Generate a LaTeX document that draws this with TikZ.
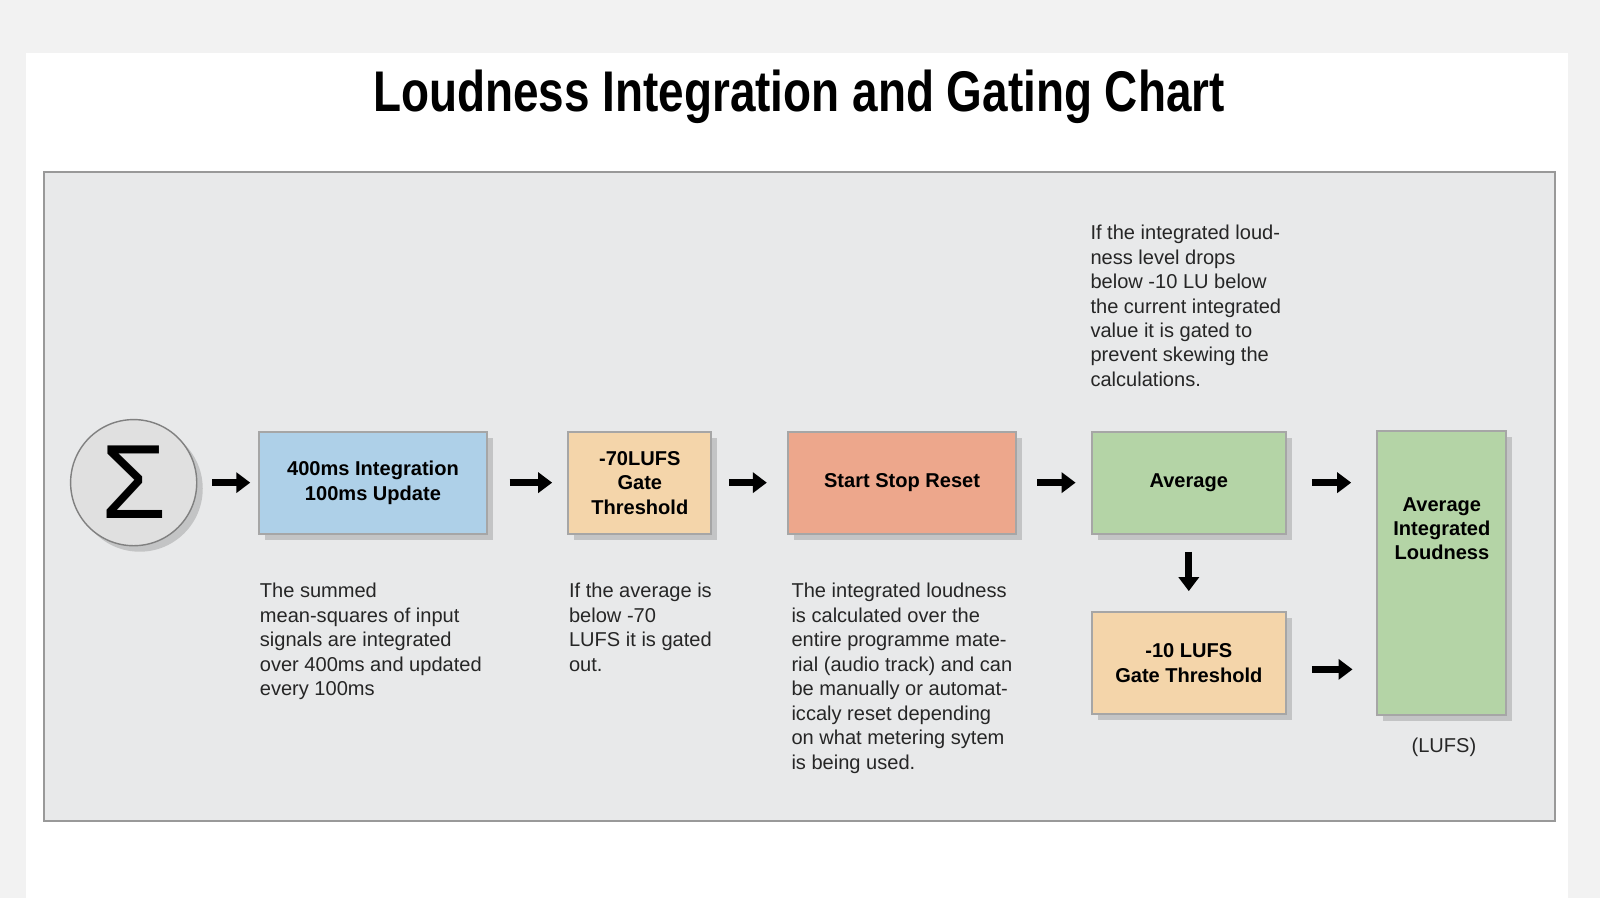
\documentclass[tikz,border=0pt]{standalone}
\usepackage{fontspec}
\setmainfont{Liberation Sans}
\usetikzlibrary{arrows.meta, shadows}
\definecolor{pagegray}{HTML}{F2F2F2}
\definecolor{panelgray}{HTML}{E8E9EA}
\definecolor{boxblue}{HTML}{AED0E8}
\definecolor{boxorange}{HTML}{F4D5AA}
\definecolor{boxsalmon}{HTML}{EDA78C}
\definecolor{boxgreen}{HTML}{B4D4A6}
\begin{document}
\begin{tikzpicture}
      [
        x=0.0102cm, y=-0.0102cm,
        box/.style={draw=black!35, line width=0.6pt, align=center, inner sep=0pt,
          font=\bfseries\fontsize{5.7pt}{6.95pt}\selectfont,
          drop shadow={shadow xshift=0.06cm, shadow yshift=-0.06cm, opacity=0.35}},
        note/.style={anchor=north west, align=left, inner sep=0pt,
          font=\fontsize{5.7pt}{6.95pt}\selectfont, text=black!85},
        flow/.style={line width=0.07cm, -{Triangle[length=0.14cm, width=0.2cm]},
          shorten <=0.15cm, shorten >=0.08cm}
      ]
      % background
      \fill[pagegray] (0,0) rectangle (1568,880);
      \fill[white] (25,52) rectangle (1537,880);
      \draw[black!40, fill=panelgray, line width=0.6pt] (43,169) rectangle (1524,805);
      % title
      \node (title) at (783,95)
        {\scalebox{0.8}[1]{\bfseries\fontsize{16.3pt}{18pt}\selectfont Loudness Integration and Gating Chart}};
      % blocks
      \node [circle, draw=black!50, fill=black!12, minimum size=1.26cm, inner sep=0pt,
        drop shadow={shadow xshift=0.06cm, shadow yshift=-0.06cm, opacity=0.35}]
        (sum) at (131,473) {\fontsize{30pt}{30pt}\selectfont\raisebox{-0.05cm}{Σ}};
      \node [box, fill=boxblue, minimum width=2.27cm, minimum height=1.02cm] (integ) at (365.5,473)
        {400ms Integration\\100ms Update};
      \node [box, fill=boxorange, minimum width=1.43cm, minimum height=1.02cm] (gate70) at (627,473)
        {-70LUFS\\Gate\\Threshold};
      \node [box, fill=boxsalmon, minimum width=2.28cm, minimum height=1.02cm] (reset) at (884,473)
        {Start Stop Reset};
      \node [box, fill=boxgreen, minimum width=1.94cm, minimum height=1.02cm] (avg) at (1165,473)
        {Average};
      \node [box, fill=boxorange, minimum width=1.94cm, minimum height=1.02cm] (gate10) at (1165,650)
        {-10 LUFS\\Gate Threshold};
      \node [box, fill=boxgreen, minimum width=1.29cm, minimum height=2.83cm] (result) at (1413,561.5)
        {Average\\Integrated\\Loudness\\[3.2em]};
      \coordinate (in10) at (1350,656);
      % notes
      \node [note] (n1) at (254,571) {The summed\\mean-squares of input\\signals are integrated\\over 400ms and updated\\every 100ms};
      \node [note] (n2) at (557,571) {If the average is\\below -70\\LUFS it is gated\\out.};
      \node [note] (n3) at (775,571) {The integrated loudness\\is calculated over the\\entire programme mate-\\rial (audio track) and can\\be manually or automat-\\iccaly reset depending\\on what metering sytem\\is being used.};
      \node [note] (n4) at (1068,220) {If the integrated loud-\\ness level drops\\below -10 LU below\\the current integrated\\value it is gated to\\prevent skewing the\\calculations.};
      \node [note, anchor=center] (unit) at (1415,732) {(LUFS)};
      % arrows
      \draw [flow] (sum) -- (integ);
      \draw [flow, shorten <=0.22cm, shorten >=0.15cm] (integ) -- (gate70);
      \draw [flow, shorten <=0.17cm, shorten >=0.2cm] (gate70) -- (reset);
      \draw [flow, shorten <=0.2cm, shorten >=0.15cm] (reset) -- (avg);
      \draw [flow, shorten <=0.25cm, shorten >=0.25cm] (avg) -- (result.west |- avg);
      \draw [flow, shorten <=0.17cm, shorten >=0.2cm] (avg) -- (gate10);
      \draw [flow, shorten <=0.25cm, shorten >=0.25cm] (gate10.east |- in10) -- (in10);
      \pgfresetboundingbox
      \useasboundingbox (0,0) rectangle (1568,880);
\end{tikzpicture}
\end{document}
